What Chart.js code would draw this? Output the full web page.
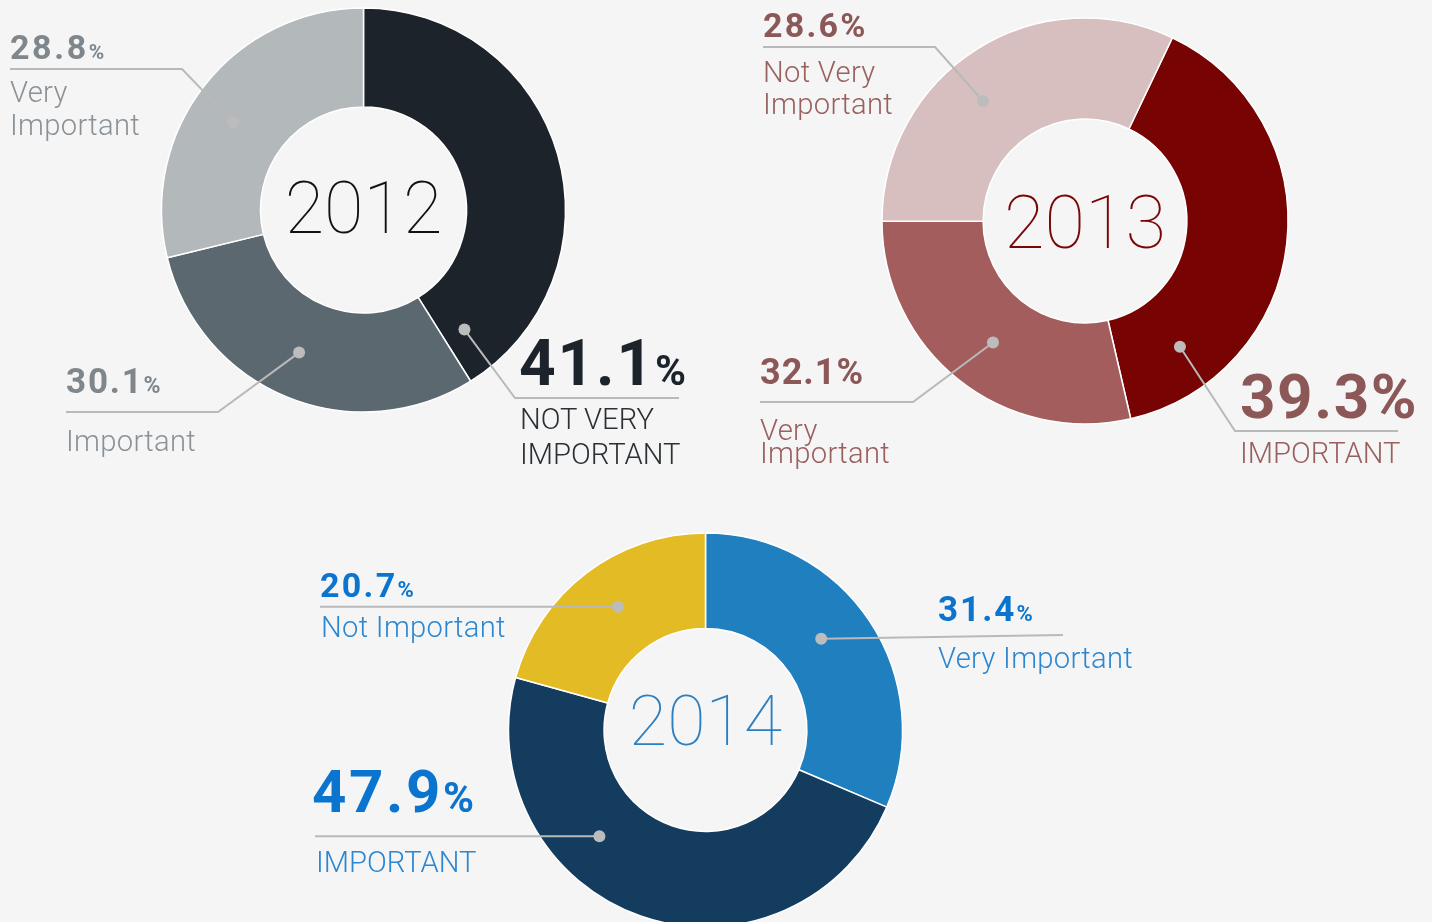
<!DOCTYPE html>
<html><head><meta charset="utf-8">
<script src="https://cdn.jsdelivr.net/npm/chart.js@4.4.1/dist/chart.umd.min.js"></script>
<style>
html,body{margin:0;padding:0;background:#f5f5f5;width:1432px;height:922px;overflow:hidden;font-family:Roboto,sans-serif;}
canvas{position:absolute;left:0;top:0;}
.t{position:absolute;white-space:nowrap;}
</style></head><body>
<canvas id="c2012" width="1432" height="922"></canvas>
<canvas id="c2013" width="1432" height="922"></canvas>
<canvas id="c2014" width="1432" height="922"></canvas>
<div id="labels"></div>
<script>
// ---- data ----
const years = ['2012', '2013', '2014'];

const cats2012 = ['Not Very Important', 'Important', 'Very Important'];
const vals2012 = [41.1, 30.1, 28.8];
const colors2012 = ['#1c232b', '#5c6870', '#b3b8bb'];

const cats2013 = ['Important', 'Very Important', 'Not Very Important'];
const vals2013 = [39.3, 28.6, 32.1];           // arcs as drawn
const pctText2013 = ['39.3', '32.1', '28.6'];  // label text shown on each arc
const colors2013 = ['#780303', '#a35d5d', '#d8bfbf'];

const cats2014 = ['Very Important', 'Important', 'Not Important'];
const vals2014 = [31.4, 47.9, 20.7];
const colors2014 = ['#1f7fbf', '#143c5f', '#e2bb25'];

// ---- leader / year plugin ----
const leaderPlugin = {
  id: 'leaders',
  afterDatasetsDraw(chart, args, opts) {
    const ctx = chart.ctx;
    const meta = chart.getDatasetMeta(0);
    (opts.items || []).forEach(it => {
      const p = meta.data[it.index].getProps(['x','y','startAngle','endAngle','innerRadius','outerRadius'], true);
      const a = p.startAngle + it.t * (p.endAngle - p.startAngle);
      const r = p.innerRadius + it.f * (p.outerRadius - p.innerRadius);
      const dx = p.x + r * Math.cos(a), dy = p.y + r * Math.sin(a);
      ctx.save();
      ctx.strokeStyle = '#b9b9b9';
      ctx.lineWidth = 2;
      ctx.beginPath();
      ctx.moveTo(dx, dy);
      if (it.elbow) ctx.lineTo(it.elbow[0], it.elbow[1]);
      ctx.lineTo(it.end[0], it.end[1] == null ? dy : it.end[1]);
      ctx.stroke();
      ctx.fillStyle = '#bcbcbc';
      ctx.beginPath();
      ctx.arc(dx, dy, 6, 0, Math.PI * 2);
      ctx.fill();
      ctx.restore();
    });
    const c = meta.data[0];
    ctx.save();
    ctx.font = '100 ' + opts.yearSize + 'px Roboto';
    ctx.fillStyle = opts.yearColor;
    ctx.textAlign = 'center';
    ctx.textBaseline = 'alphabetic';
    ctx.fillText(opts.year, c.x, c.y + opts.yearDy);
    ctx.restore();
  }
};

function makeChart(id, cats, vals, colors, cx, cy, radius, cutout, rotation, leaders) {
  const h = 150;
  return new Chart(document.getElementById(id), {
    type: 'doughnut',
    data: { labels: cats, datasets: [{ data: vals, backgroundColor: colors, borderColor: '#ffffff', borderWidth: 1.5, clip: false }] },
    options: {
      responsive: false, animation: false, events: [],
      radius: radius, cutout: cutout, rotation: rotation,
      layout: { padding: { left: cx - h, right: 1432 - cx - h, top: cy - h, bottom: 922 - cy - h } },
      plugins: { legend: { display: false }, tooltip: { enabled: false }, leaders: leaders }
    },
    plugins: [leaderPlugin]
  });
}

function init() {
  makeChart('c2012', cats2012, vals2012, colors2012, 363.5, 210, 202, '51%', 0, {
    year: years[0], yearSize: 72, yearDy: 23, yearColor: '#111111',
    items: [
      { index: 2, t: 0.46, f: 0.55, elbow: [182, 69], end: [10, 69] },
      { index: 1, t: 0.52, f: 0.54, elbow: [218, 412], end: [66, 412] },
      { index: 0, t: 0.945, f: 0.54, elbow: [515, 398], end: [679, 398] }
    ]
  });
  makeChart('c2013', cats2013, vals2013, colors2013, 1085, 221, 203, '50.2%', 25.5, {
    year: years[1], yearSize: 74, yearDy: 27, yearColor: '#7a0505',
    items: [
      { index: 2, t: 0.43, f: 0.55, elbow: [935, 47], end: [763, 47] },
      { index: 1, t: 0.487, f: 0.5, elbow: [913, 402], end: [760, 402] },
      { index: 0, t: 0.83, f: 0.55, elbow: [1235, 431], end: [1398, 431] }
    ]
  });
  makeChart('c2014', cats2014, vals2014, colors2014, 705.5, 730, 197, '51.5%', 0, {
    year: years[2], yearSize: 70, yearDy: 15, yearColor: '#2b7fc3',
    items: [
      { index: 2, t: 0.525, f: 0.52, end: [320, null] },
      { index: 0, t: 0.458, f: 0.48, end: [1063, 635] },
      { index: 1, t: 0.649, f: 0.51, end: [315, null] }
    ]
  });

  // ---- text labels ----
  const box = document.getElementById('labels');
  function txt(text, x, baseline, size, weight, color, pctSize, ls) {
    const L = Math.round(size * 1.2);
    const d = document.createElement('div');
    d.className = 't';
    d.style.left = x + 'px';
    d.style.top = (baseline - L / 2 - 0.342 * size) + 'px';
    d.style.fontSize = size + 'px';
    d.style.lineHeight = L + 'px';
    d.style.fontWeight = weight;
    d.style.color = color;
    if (ls) d.style.letterSpacing = ls + 'px';
    if (pctSize) {
      const a = document.createElement('span'); a.textContent = text; d.appendChild(a);
      const b = document.createElement('span'); b.textContent = '%';
      b.style.fontSize = pctSize + 'px'; b.style.lineHeight = '1px'; d.appendChild(b);
    } else d.textContent = text;
    box.appendChild(d);
  }
  const lbl = 29.2;
  // 2012
  txt(vals2012[2].toFixed(1), 10, 59, 34, 700, '#7f878d', 21, 2.6);
  txt('Very', 10, 102, lbl, 300, '#8a9298', 0, 0.3);
  txt('Important', 10, 135, lbl, 300, '#8a9298', 0, 0.3);
  txt(vals2012[1].toFixed(1), 66, 394, 35, 700, '#7f878d', 23, 1.8);
  txt('Important', 66, 451, lbl, 300, '#8a9298', 0, 0.3);
  txt(vals2012[0].toFixed(1), 519, 385, 64, 700, '#1c232b', 42, 1.8);
  txt('NOT VERY', 520, 429, lbl, 300, '#2a3035');
  txt('IMPORTANT', 520, 464, lbl, 300, '#2a3035');
  // 2013
  txt(pctText2013[2] + '%', 763, 37, 34, 700, '#8c5757', 0, 2.2);
  txt('Not Very', 763, 82, lbl, 300, '#9a6060', 0, 0.3);
  txt('Important', 763, 114, lbl, 300, '#9a6060', 0, 0.3);
  txt(pctText2013[1] + '%', 760, 385, 36, 700, '#8c5757', 0, 1);
  txt('Very', 760, 440, lbl, 300, '#9a6060', 0, 0.3);
  txt('Important', 760, 463, lbl, 300, '#9a6060', 0, 0.3);
  txt(pctText2013[0] + '%', 1240, 418, 62, 700, '#8c5757', 0, 1.5);
  txt('IMPORTANT', 1240, 463, lbl, 300, '#9a6060');
  // 2014
  txt(vals2014[2].toFixed(1), 320, 597, 34, 700, '#0b74cf', 22, 2.3);
  txt('Not Important', 321, 637, lbl, 300, '#2c87d2', 0, 0.3);
  txt(vals2014[0].toFixed(1), 938, 622, 35, 700, '#0b74cf', 22, 2);
  txt('Very Important', 938, 668, lbl, 300, '#2c87d2', 0, 0.3);
  txt(vals2014[1].toFixed(1), 312, 813, 60, 700, '#0b74cf', 42, 2.6);
  txt('IMPORTANT', 316, 872, lbl, 300, '#2c87d2');
}

if (document.fonts && document.fonts.load) {
  Promise.all([document.fonts.load('100 72px Roboto'), document.fonts.load('300 28px Roboto'), document.fonts.load('700 34px Roboto')])
    .then(init, init);
} else init();
</script>
</body></html>
